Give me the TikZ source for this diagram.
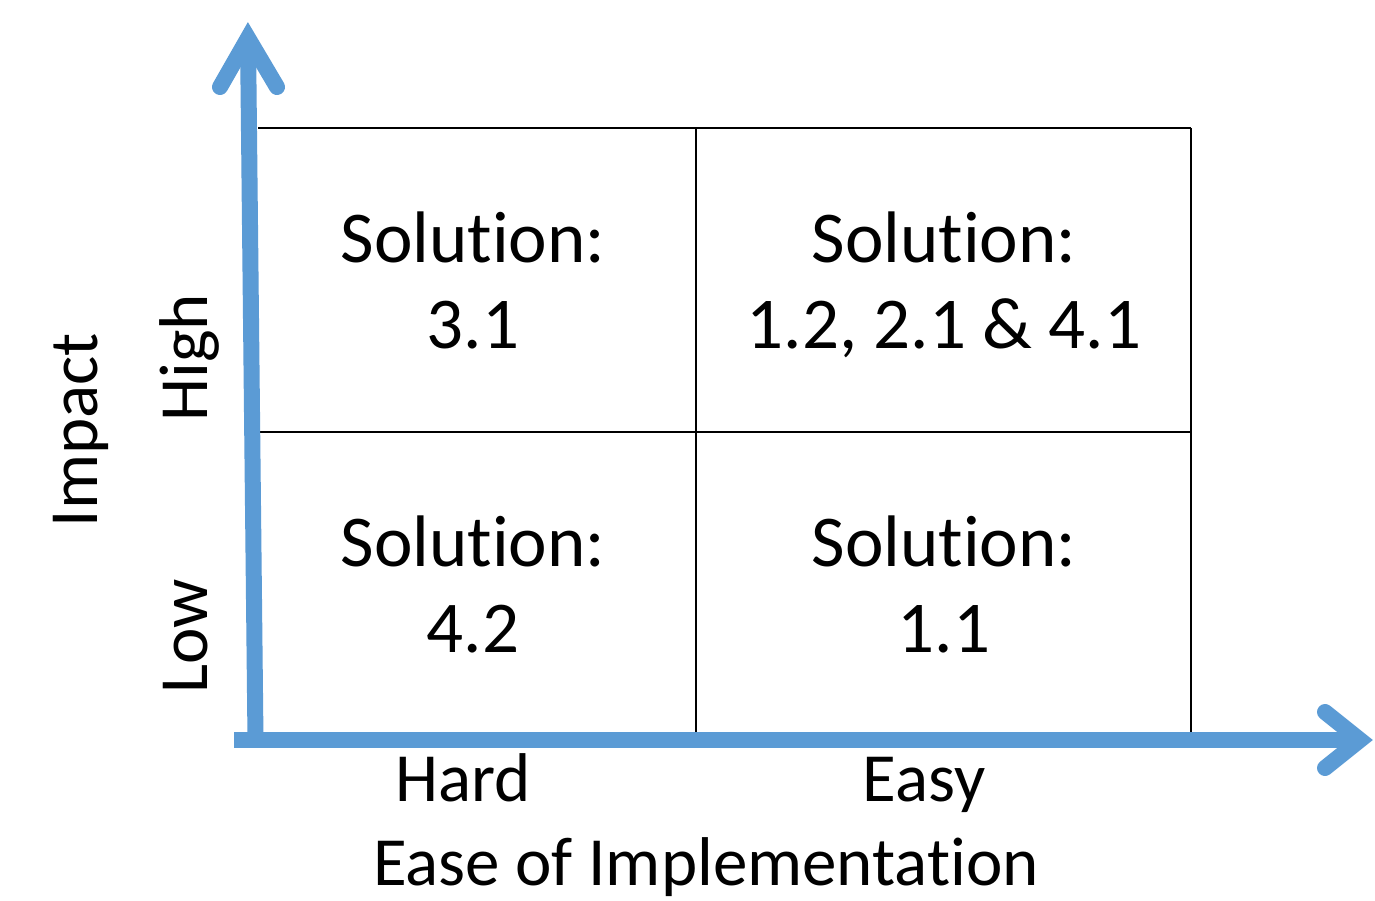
\documentclass[tikz,border=0pt]{standalone}
\usepackage{fontspec}
\setmainfont{Carlito}[Ligatures=NoCommon]
\definecolor{axisblue}{HTML}{5B9BD5}
\begin{document}
\begin{tikzpicture}[x=1pt,y=-1pt,
  gridline/.style={draw=black,line width=2pt},
  axisline/.style={draw=axisblue,line width=16pt,line cap=butt},
  axishead/.style={draw=axisblue,line width=16pt,line cap=round,line join=miter},
  cell/.style={font=\fontsize{73}{86}\selectfont,align=center,anchor=base,inner sep=0pt},
  axlabel/.style={font=\fontsize{69}{72}\selectfont,anchor=base,inner sep=0pt},
  axtitle/.style={font=\fontsize{69}{72}\selectfont,anchor=base,inner sep=0pt}]
\useasboundingbox[fill=white] (0,0) rectangle (1375,901);
% grid
\coordinate (tl) at (258,128);
\coordinate (tr) at (1191,128);
\coordinate (ml) at (260,432);
\coordinate (mr) at (1191,432);
\coordinate (tm) at (696,128);
\coordinate (bm) at (696,732);
\coordinate (br) at (1191,732);
\draw[gridline] (tl) -- (tr);
\draw[gridline] (ml) -- (mr);
\draw[gridline] (tm) -- (bm);
\draw[gridline] (tr) -- (br);
% axes
\coordinate (xstart) at (234,740);
\coordinate (xtip) at (1360,740);
\coordinate (xh1) at (1325,712);
\coordinate (xh2) at (1325,768);
\coordinate (ystart) at (255.5,740);
\coordinate (ytip) at (248,38);
\coordinate (yh1) at (220,87);
\coordinate (yh2) at (277,87);
\draw[axisline] (xstart) -- (xtip);
\draw[axishead] (xh1) -- (xtip) -- (xh2);
\draw[axisline] (ystart) -- (ytip);
\draw[axishead] (yh1) -- (ytip) -- (yh2);
% cells (base anchor = baseline of the last line)
\node[cell] (c1) at (473,348) {Solution:\\3.1};
\node[cell] (c2) at (944,348) {Solution:\\1.2, 2.1 \& 4.1};
\node[cell] (c3) at (473,652) {Solution:\\4.2};
\node[cell] (c4) at (944,652) {Solution:\\1.1};
% labels
\node[axlabel] (hard) at (463,801) {Hard};
\node[axlabel] (easy) at (924,801) {Easy};
\node[axtitle] (ease) at (706,885) {Ease of Implementation};
\node[axtitle,rotate=90] (impact) at (97,430) {Impact};
\node[axlabel,rotate=90] (high) at (207,358) {High};
\node[axlabel,rotate=90] (low) at (207,636) {Low};
\end{tikzpicture}
\end{document}
